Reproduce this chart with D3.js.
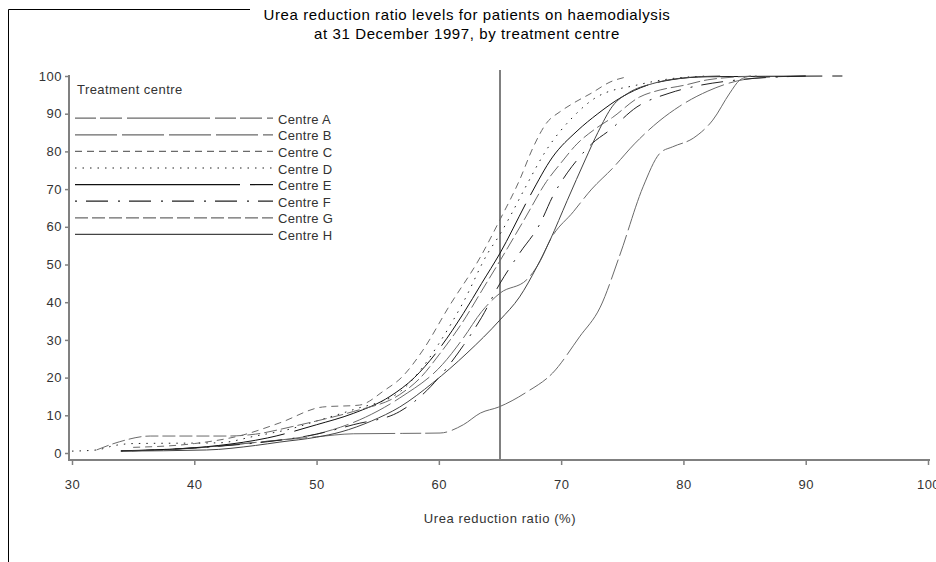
<!DOCTYPE html>
<html>
<head>
<meta charset="utf-8">
<script src="https://cdn.jsdelivr.net/npm/d3@7"></script>
<style>
  html, body { margin: 0; padding: 0; background: #fff; }
  svg { display: block; font-family: "Liberation Sans", Arial, sans-serif; }
</style>
</head>
<body>
<svg id="chart" width="936" height="562"></svg>
<script>
// ---- data ----
const titleLines = ["Urea reduction ratio levels for patients on haemodialysis",
                    "at 31 December 1997, by treatment centre"];
const xLabel = "Urea reduction ratio (%)";
const legendTitle = "Treatment centre";
const centres = ["Centre A","Centre B","Centre C","Centre D","Centre E","Centre F","Centre G","Centre H"];
const xTicks = [30,40,50,60,70,80,90,100];
const yTicks = [0,10,20,30,40,50,60,70,80,90,100];
const targetURR = 65;

const centreA = [[34,0.5],[40,1.3],[45,2.8],[50,4.3],[53,5.1],[57,5.2],[60.1,5.3],[62,7.5],[63.4,10.6],[64.9,12.2],[67.2,16.2],[69.3,21.2],[71.5,30.8],[73.2,38.7],[74.8,52.5],[76.7,70.6],[78.1,79.6],[79.1,81.2],[80.8,83.5],[82.4,88.3],[83.8,95.5],[84.6,98.9],[85.5,100]];
const centreB = [[34,0.5],[40,1.3],[45,2.8],[50,5],[54,9.5],[56.8,14.6],[60.3,23.5],[62,30.5],[63.5,37.5],[65,42.4],[67.2,46],[68.3,51],[69.1,56.5],[71,64],[72.5,70],[74.2,75.5],[76,82],[78,88],[79.7,92],[82,96],[84.4,98.7],[87,99.7],[90,100]];
const centreC = [[35,1.5],[40,2.5],[44,4.8],[47,8],[50.5,12.2],[53.5,12.7],[55.5,16.5],[57,20.2],[58.7,27.3],[60.8,38.7],[63.4,52],[65,61.9],[66.6,72.4],[67.7,81],[68.8,87.5],[69.9,90.5],[71,92.8],[72.5,95.5],[74,98.4],[75.4,99.8]];
const centreD = [[30,0.5],[32,0.8],[33.5,2],[35,2.5],[42,2.7],[45,4.5],[48,6.5],[50,8.5],[53,11.5],[56.8,16.2],[58.5,22],[60,29],[62,40],[64,53],[65,58],[65.8,62.6],[67,70],[68.8,80.4],[70.9,88.9],[72.9,94.4],[76.2,97.6],[79,99.3],[82,100]];
const centreE = [[34,0.6],[38,1],[42,2],[46,4],[50,7.5],[53,10.5],[56,15],[58,20],[60,27.5],[62,37],[63.5,45],[65,53],[67.4,67.9],[69.3,78.5],[71.3,85.4],[73,90],[75,94.5],[77,97.5],[79,99],[82,99.8],[93,100]];
const centreF = [[34,0.5],[38,1],[42,1.8],[46,3],[50,5],[53,7.5],[56.8,11],[58.5,15],[60,20],[62,28.5],[63.5,36],[65,45],[66.6,53],[68.3,61],[69.3,68],[70.5,74.3],[71.3,77.7],[72.5,82],[74,85.7],[76.2,91.8],[78.9,95.5],[81,97.3],[84,98.8],[90,100]];
const centreG = [[32,0.8],[33.9,3],[36.4,4.5],[42.7,4.5],[45,5],[48,7],[50,8.5],[53,11],[56.8,15.5],[58.5,20],[60,26],[62,35],[63.5,43],[65,51],[67,62],[68.8,72],[70,77],[71.3,82],[72.8,86],[74.2,89],[76.4,94.4],[78.1,96.3],[80,97.5],[82,99],[86,100]];
const centreH = [[34,0.5],[41,0.8],[45,2],[47,2.9],[50,4.2],[52,5.6],[54.5,8.5],[56.8,12.2],[59.5,18.6],[62.3,26.5],[65,35.3],[66.6,41.4],[68,49.3],[69.1,56.5],[70.5,67],[72,78],[73,85],[74.2,92],[75.5,95.5],[77.5,98],[80,99.5],[83,100]];

const seriesData = [centreA, centreB, centreC, centreD, centreE, centreF, centreG, centreH];

// ---- styles ----
const dashes = ["21,4,22,5,83,5", "42,5", "7,5", "1.5,6", "165,10", "2,9,22,10", "13,4", null];
const strokes = ["#6a6a6a","#6a6a6a","#6a6a6a","#222","#111","#222","#6a6a6a","#444"];

const svg = d3.select("#chart");
const axisColor = "#808080";
const textColor = "#333";
const font = "Liberation Sans, Arial, sans-serif";

// frame
svg.append("line").attr("x1",8.5).attr("x2",8.5).attr("y1",9.5).attr("y2",562).attr("stroke","#000").attr("stroke-width",1);
svg.append("line").attr("x1",8.5).attr("x2",250).attr("y1",9.5).attr("y2",9.5).attr("stroke","#000").attr("stroke-width",1);

const x = d3.scaleLinear().domain([30,100]).range([72,928]);
const y = d3.scaleLinear().domain([0,100]).range([453,76]);

// title
svg.append("g").selectAll("text").data(titleLines).join("text")
  .attr("x", 467).attr("y", (d,i)=> 19.5 + i*19)
  .attr("text-anchor","middle").attr("font-size",15).attr("letter-spacing",0.6).attr("fill","#000")
  .text(d=>d);

// axes
const xAxisY = 460, yAxisX = 69;
const xAxis = d3.axisBottom(x).tickValues(xTicks).tickSize(5).tickPadding(15).tickFormat(d3.format("d"));
const gx = svg.append("g").attr("transform",`translate(0,${xAxisY})`).call(xAxis);
gx.select(".domain").remove();
gx.selectAll(".tick line").attr("stroke",axisColor).attr("stroke-width",1.5);
gx.selectAll(".tick text").attr("fill",textColor).attr("font-size",13).attr("letter-spacing",0.5).attr("font-family",font);
svg.append("line").attr("x1",yAxisX).attr("x2",930).attr("y1",xAxisY).attr("y2",xAxisY).attr("stroke",axisColor).attr("stroke-width",2);

const yAxis = d3.axisLeft(y).tickValues(yTicks).tickSize(4).tickPadding(3).tickFormat(d3.format("d"));
const gy = svg.append("g").attr("transform",`translate(${yAxisX},0)`).call(yAxis);
gy.select(".domain").remove();
gy.selectAll(".tick line").attr("stroke",axisColor).attr("stroke-width",1.5);
gy.selectAll(".tick text").attr("fill",textColor).attr("font-size",13).attr("letter-spacing",0.5).attr("font-family",font);
svg.append("line").attr("x1",yAxisX).attr("x2",yAxisX).attr("y1",75).attr("y2",xAxisY+1).attr("stroke",axisColor).attr("stroke-width",2);

// axis label
svg.append("text").attr("x",500).attr("y",523).attr("text-anchor","middle")
  .attr("font-size",13).attr("letter-spacing",0.6).attr("fill",textColor).text(xLabel);

// target line
svg.append("line").attr("x1",x(targetURR)).attr("x2",x(targetURR)).attr("y1",70).attr("y2",xAxisY)
  .attr("stroke",axisColor).attr("stroke-width",2);

// curves
const line = d3.line().x(d=>x(d[0])).y(d=>y(d[1])).curve(d3.curveMonotoneX);
svg.append("g").selectAll("path").data(seriesData).join("path")
  .attr("d", line)
  .attr("fill","none")
  .attr("stroke",(d,i)=>strokes[i])
  .attr("stroke-width",1)
  .attr("stroke-dasharray",(d,i)=>dashes[i]);

// legend
svg.append("text").attr("x",77).attr("y",94).attr("font-size",13).attr("letter-spacing",0.45).attr("fill",textColor).text(legendTitle);
const lg = svg.append("g").selectAll("g").data(centres).join("g")
  .attr("transform",(d,i)=>`translate(0,${117.7 + i*16.6})`);
lg.append("line").attr("x1",75).attr("x2",273).attr("y1",0.5).attr("y2",0.5)
  .attr("stroke",(d,i)=>strokes[i]).attr("stroke-width",1.2)
  .attr("stroke-dasharray",(d,i)=>dashes[i]);
lg.append("text").attr("x",278).attr("y",6).attr("font-size",13).attr("letter-spacing",0.3).attr("fill",textColor).text(d=>d);
</script>
</body>
</html>
